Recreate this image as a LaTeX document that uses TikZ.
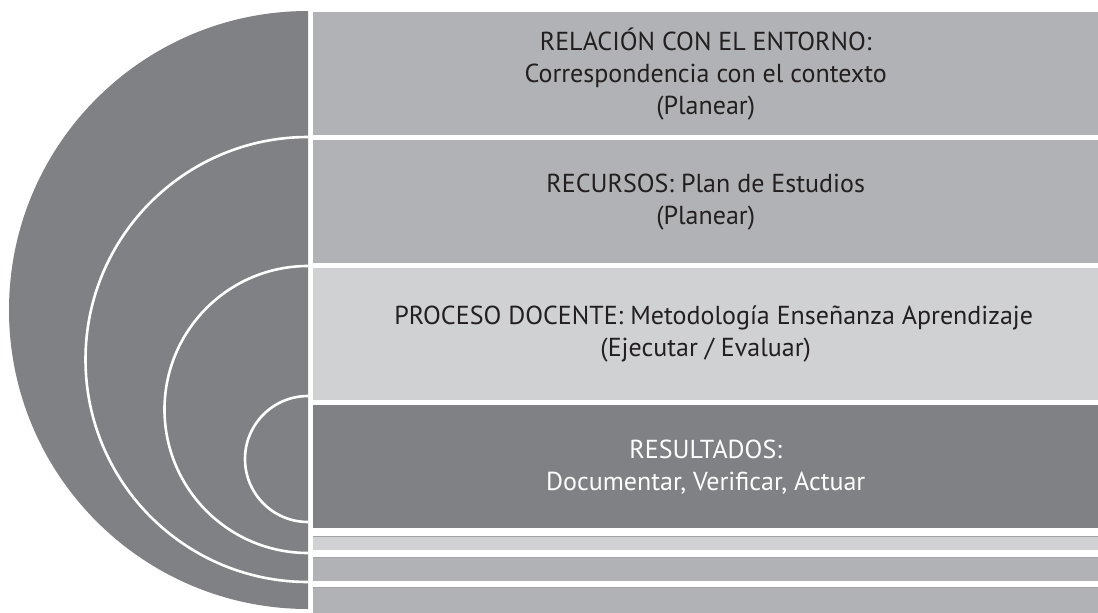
\documentclass[tikz,border=0pt]{standalone}
\usepackage{fontspec}
\setmainfont{PT Sans}
\definecolor{darkg}{HTML}{808184}
\definecolor{midg}{HTML}{B1B2B5}
\definecolor{lightg}{HTML}{D0D1D3}
\definecolor{shadowg}{HTML}{A2A3A6}
\definecolor{txt}{HTML}{231F20}
\tikzset{
  box/.style={draw=none, anchor=north west, minimum width=785pt, inner sep=0pt,
    align=center, text=txt, font=\fontsize{26}{32}\selectfont},
  ring/.style={draw=white, line width=2.6pt},
  shadowline/.style={draw=shadowg, line width=1pt},
}
\begin{document}
\begin{tikzpicture}[x=1pt,y=-1pt]
\useasboundingbox (0,0) rectangle (1098,613);
\fill[white] (0,0) rectangle (1098,613);
% outer half disc
\coordinate (otop) at (308,11);
\fill[darkg] (otop) arc[start angle=90, end angle=270, radius=299pt] -- cycle;
% inner rings
\coordinate (r2) at (308,137);
\coordinate (r3) at (308,266);
\coordinate (r4) at (308,396);
\draw[ring] (r2) arc[start angle=90, end angle=270, radius=222.5pt];
\draw[ring] (r3) arc[start angle=90, end angle=270, radius=143.5pt];
\draw[ring] (r4) arc[start angle=90, end angle=270, radius=63pt];
% boxes
\node[box, fill=midg, minimum height=123pt] (b1) at (313,12)
  {RELACIÓN CON EL ENTORNO:\\Correspondencia con el contexto\\(Planear)};
\node[box, fill=midg, minimum height=123pt] (b2) at (313,140)
  {RECURSOS: Plan de Estudios\\(Planear)};
\node[box, fill=lightg, minimum height=132pt] (b3) at (313,268)
  {\hspace*{16pt}PROCESO DOCENTE: Metodología Enseñanza Aprendizaje\\(Ejecutar / Evaluar)};
\node[box, fill=darkg, minimum height=123pt, text=white] (b4) at (313,405)
  {RESULTADOS:\\Documentar, Verificar, Actuar};
\node[box, fill=lightg, minimum height=14pt] (b5) at (313,536) {};
\node[box, fill=midg, minimum height=24pt] (b6) at (313,557) {};
\node[box, fill=midg, minimum height=27pt] (b7) at (313,587) {};
\draw[shadowline] (b5.north west) -- (b5.north east);
\draw[shadowline] (b6.north west) -- (b6.north east);
\draw[shadowline] (b7.north west) -- (b7.north east);
\end{tikzpicture}
\end{document}
